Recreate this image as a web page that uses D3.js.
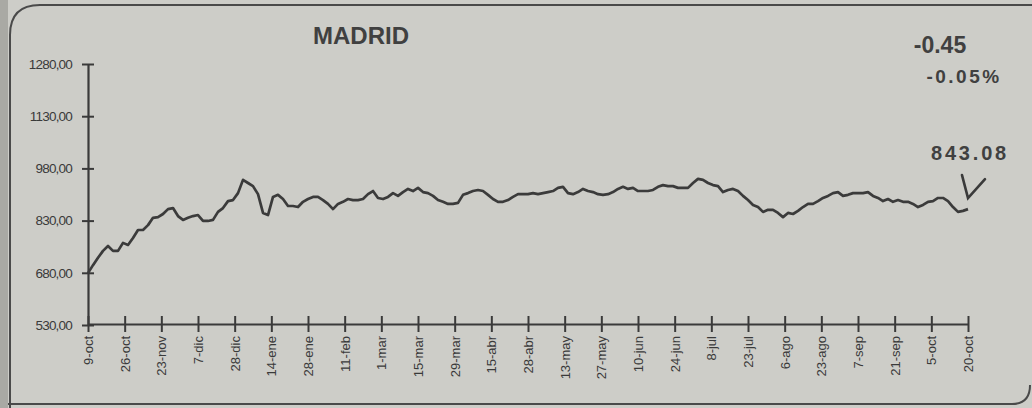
<!DOCTYPE html>
<html>
<head>
<meta charset="utf-8">
<script src="https://cdn.jsdelivr.net/npm/d3@7"></script>
<style>
html,body{margin:0;padding:0;background:#cdcdc8;}
svg{display:block;}
</style>
</head>
<body>
<svg id="chart" width="1032" height="408"></svg>
<script>
// ---- data ----
const title = "MADRID";
const change = "-0.45";
const changePct = "-0.05%";
const lastValue = "843.08";
const yTicks = [530, 680, 830, 980, 1130, 1280];
const xLabels = ["9-oct","26-oct","23-nov","7-dic","28-dic","14-ene","28-ene","11-feb","1-mar","15-mar","29-mar","15-abr","28-abr","13-may","27-may","10-jun","24-jun","8-jul","23-jul","6-ago","23-ago","7-sep","21-sep","5-oct","20-oct"];
const values = [
679,702,723,743,757,743,743,766,760,780,803,803,817,838,840,849,863,866,843,832,
838,843,846,829,829,832,855,866,886,889,909,947,938,929,906,852,846,898,904,892,
872,872,869,884,892,898,898,889,878,863,878,884,892,889,889,892,906,915,895,892,
898,909,901,912,921,915,924,912,909,901,889,884,878,878,881,904,909,915,918,915,
904,892,884,884,889,898,906,906,906,909,906,909,912,915,924,927,909,906,912,921,
915,912,906,904,906,912,921,927,921,924,915,915,915,918,927,932,929,929,924,924,
924,938,950,947,938,932,929,912,918,921,915,901,889,875,869,855,861,861,852,840,
852,849,858,869,878,878,886,895,901,909,912,901,904,909,909,909,912,901,895,886,
892,884,889,884,884,878,869,875,884,886,895,895,886,869,855,858,863
];

// ---- layout ----
const svg = d3.select("#chart");
const W = 1032, H = 408;
const ink = "#3a3a3a";
const plot = {left: 88, right: 968, top: 64, bottom: 325};
const font = "'Liberation Sans', Arial, sans-serif";

// background and frame
svg.append("rect").attr("width", W).attr("height", H).attr("fill", "#cdcdc8");
svg.append("rect").attr("x", 0).attr("y", 0).attr("width", 8).attr("height", H).attr("fill", "#a9a9a4");
svg.append("path")
  .attr("d", "M1032,5 L40,5 Q10,5 10,35 L10,408")
  .attr("fill", "none").attr("stroke", "#4a4a4a").attr("stroke-width", 2);
svg.append("path")
  .attr("d", "M8,404 L1012,404 Q1030,404 1030,385")
  .attr("fill", "none").attr("stroke", "#4a4a4a").attr("stroke-width", 2);

// scales
const y = d3.scaleLinear().domain([530, 1280]).range([plot.bottom, plot.top]);
const xCat = d3.scalePoint().domain(xLabels).range([plot.left, plot.right]);
const xIdx = d3.scaleLinear().domain([0, values.length - 1]).range([plot.left, plot.right]);

// y axis
const yAxis = d3.axisLeft(y).tickValues(yTicks)
  .tickFormat(d => d3.format(".2f")(d).replace(".", ","))
  .tickSize(0).tickPadding(16);
const gy = svg.append("g").attr("transform", `translate(${plot.left},0)`).call(yAxis);
gy.select(".domain").attr("stroke", ink).attr("stroke-width", 2.2);
gy.selectAll(".tick text").attr("fill", ink)
  .style("font-family", font)
  .style("font-size", "13.5px").style("letter-spacing", "-0.8px");
gy.selectAll(".tick").append("line")
  .attr("x1", -6).attr("x2", 6).attr("stroke", ink).attr("stroke-width", 2);

// x axis
const xAxis = d3.axisBottom(xCat).tickSize(0).tickPadding(0);
const gx = svg.append("g").attr("transform", `translate(0,${plot.bottom - 1})`).call(xAxis);
gx.select(".domain").attr("stroke", ink).attr("stroke-width", 2.2);
gx.selectAll(".tick").append("line")
  .attr("y1", -8).attr("y2", 8).attr("stroke", ink).attr("stroke-width", 2);
gx.selectAll(".tick text")
  .attr("fill", ink)
  .attr("transform", "translate(0,12) rotate(-90)")
  .attr("text-anchor", "end").attr("dy", "0.35em").attr("y", 0)
  .style("font-family", font)
  .style("font-size", "13px");

// line
const line = d3.line().x((d, i) => xIdx(i)).y(d => y(d));
svg.append("path").datum(values)
  .attr("d", line).attr("fill", "none")
  .attr("stroke", "#3b3b3b").attr("stroke-width", 2.7)
  .attr("stroke-linejoin", "round");

// texts
svg.append("text").attr("x", 361).attr("y", 44).attr("text-anchor", "middle")
  .attr("fill", "#404040")
  .style("font-family", font)
  .style("font-weight", "bold").style("font-size", "24px")
  .text(title);
svg.append("text").attr("x", 940).attr("y", 53).attr("text-anchor", "middle")
  .attr("fill", "#404040")
  .style("font-family", font)
  .style("font-weight", "bold").style("font-size", "23px")
  .text(change);
svg.append("text").attr("x", 964).attr("y", 83).attr("text-anchor", "middle")
  .attr("fill", "#404040")
  .style("font-family", font)
  .style("font-weight", "bold").style("font-size", "19px").style("letter-spacing", "2.5px")
  .text(changePct);
svg.append("text").attr("x", 970).attr("y", 160).attr("text-anchor", "middle")
  .attr("fill", "#404040")
  .style("font-family", font)
  .style("font-weight", "bold").style("font-size", "20px").style("letter-spacing", "2.8px")
  .text(lastValue);

// arrow pointing to last value
const lastX = xIdx(values.length - 1), lastY = y(values[values.length - 1]);
const tipX = lastX, tipY = lastY - 11;
svg.append("path")
  .attr("d", `M${tipX - 6},${tipY - 23} L${tipX},${tipY} L${tipX + 17},${tipY - 19}`)
  .attr("fill", "none").attr("stroke", "#3a3a3a").attr("stroke-width", 2.6)
  .attr("stroke-linecap", "round").attr("stroke-linejoin", "miter");
</script>
</body>
</html>
